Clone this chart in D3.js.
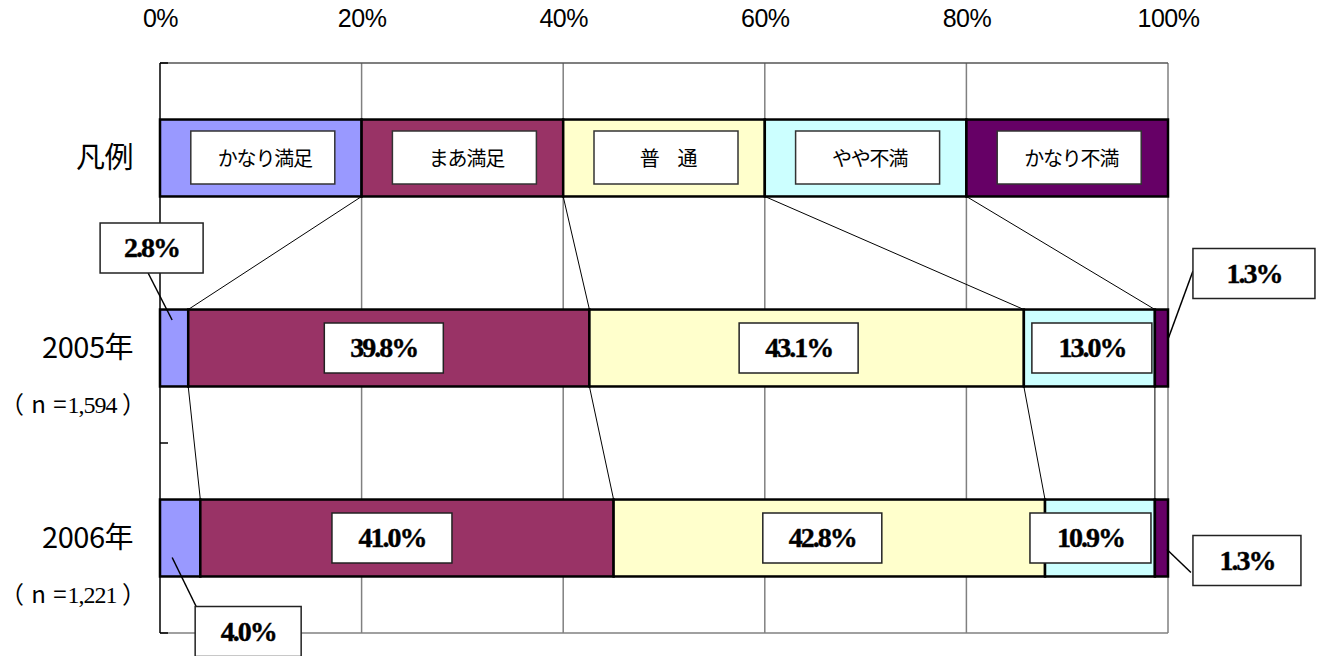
<!DOCTYPE html>
<html><head><meta charset="utf-8">
<script src="https://cdn.jsdelivr.net/npm/d3@7"></script>
<style>body{margin:0;background:#fff}svg{display:block}</style>
</head><body>
<svg id="chart" width="1321" height="656"></svg>
<script>
// ---- data ----
const categories = ["凡例", "2005年", "2006年"];
const sampleSizes = ["", "1,594", "1,221"];
const seriesNames = ["かなり満足", "まあ満足", "普　通", "やや不満", "かなり不満"];
const legendValues = [20, 20, 20, 20, 20];
const values2005 = [2.8, 39.8, 43.1, 13.0, 1.3];
const values2006 = [4.0, 41.0, 42.8, 10.9, 1.3];
const seriesColors = ["#9999FF", "#993366", "#FFFFCC", "#CCFFFF", "#660066"];
const xTickValues = [0, 20, 40, 60, 80, 100];

// label placement (annotation offsets relative to segment centre)
const labelLayout2005 = [
  {out: true, dx: -22.5, dy: -100, w: 103, ax: -2, ay: -28, ex: -3.5, ey: 25},
  {dx: -5, w: 119},
  {dx: -8, w: 119},
  {dx: 2.5, w: 120},
  {out: true, dx: 92.5, dy: -74.5, w: 122, ax: 7, ay: -10, ex: -61, ey: -2.5}
];
const labelLayout2006 = [
  {out: true, dx: 68, dy: 93.5, w: 106, ax: -8, ay: 19.5, ex: -52, ey: -25},
  {dx: -15, w: 120},
  {dx: -7, w: 119},
  {dx: -9.5, w: 121},
  {out: true, dx: 85.5, dy: 22.5, w: 108, ax: 5.5, ay: 11.5, ex: -56, ey: 12}
];

const svg = d3.select("#chart");
const pLeft = 160, pRight = 1168, pTop = 63, pBottom = 633;
const x = d3.scaleLinear().domain([0, 100]).range([pLeft, pRight]);
const y = d3.scaleBand().domain(categories).range([pTop, pBottom]).paddingInner(0.595).paddingOuter(0.2975);

const rows = [legendValues, values2005, values2006];
function stackRow(vals) {
  let acc = 0;
  return vals.map((v, i) => { const s = acc; acc += v; return {i, v, x0: s, x1: acc}; });
}
const stacked = rows.map(stackRow);

// gridlines
const grid = svg.append("g");
grid.selectAll("line.g").data(xTickValues.slice(1)).join("line")
  .attr("x1", d => x(d)).attr("x2", d => x(d)).attr("y1", pTop).attr("y2", pBottom)
  .attr("stroke", "#808080").attr("stroke-width", 1.5);
grid.append("line").attr("x1", pLeft).attr("x2", pRight).attr("y1", pTop).attr("y2", pTop)
  .attr("stroke", "#555").attr("stroke-width", 1.5);
grid.append("line").attr("x1", pLeft).attr("x2", pRight).attr("y1", pBottom).attr("y2", pBottom)
  .attr("stroke", "#808080").attr("stroke-width", 1.5);

// top axis
const xAxis = d3.axisTop(x).tickValues(xTickValues).tickFormat(d => d + "%").tickSize(0);
const axG = svg.append("g").attr("transform", `translate(0,${pTop - 33})`).call(xAxis);
axG.select(".domain").remove();
axG.selectAll("text").attr("font-family", "'Liberation Sans', Arial, sans-serif")
  .attr("font-size", 25).attr("fill", "#000").attr("letter-spacing", -0.5);

// left axis
svg.append("line").attr("x1", pLeft).attr("x2", pLeft).attr("y1", pTop).attr("y2", pBottom)
  .attr("stroke", "#000").attr("stroke-width", 1.5);
const step = y.step();
svg.selectAll("line.tk").data(d3.range(categories.length + 1)).join("line")
  .attr("x1", pLeft).attr("x2", pLeft + 8)
  .attr("y1", d => pTop + d * step).attr("y2", d => pTop + d * step)
  .attr("stroke", "#000").attr("stroke-width", 1.5);

// series lines connecting rows
const sl = svg.append("g");
for (let r = 0; r < rows.length - 1; r++) {
  for (let k = 0; k < rows[r].length - 1; k++) {
    sl.append("line")
      .attr("x1", x(stacked[r][k].x1)).attr("y1", y(categories[r]) + y.bandwidth())
      .attr("x2", x(stacked[r + 1][k].x1)).attr("y2", y(categories[r + 1]))
      .attr("stroke", "#000").attr("stroke-width", 1);
  }
}

// bars
stacked.forEach((segs, r) => {
  svg.append("g").selectAll("rect").data(segs).join("rect")
    .attr("x", d => x(d.x0)).attr("width", d => x(d.x1) - x(d.x0))
    .attr("y", y(categories[r])).attr("height", y.bandwidth())
    .attr("fill", d => seriesColors[d.i]).attr("stroke", "#000").attr("stroke-width", 2.5);
});

// legend labels inside legend row
const lg = svg.append("g");
stacked[0].forEach(d => {
  const cx = x((d.x0 + d.x1) / 2), cy = y(categories[0]) + y.bandwidth() / 2;
  lg.append("rect").attr("x", cx - 70).attr("y", cy - 27).attr("width", 144).attr("height", 53)
    .attr("fill", "#fff").attr("stroke", "#333").attr("stroke-width", 1.5);
  lg.append("text").attr("x", cx + 4).attr("y", cy + 8).attr("text-anchor", "middle")
    .attr("font-family", "'Noto Sans CJK JP', sans-serif").attr("font-size", 20)
    .attr("letter-spacing", -1.2).text(seriesNames[d.i]);
});

// value labels
function drawLabels(r, layout) {
  const g = svg.append("g");
  const cy = y(categories[r]) + y.bandwidth() / 2;
  stacked[r].forEach((d, k) => {
    const L = layout[k];
    const sx = x((d.x0 + d.x1) / 2);
    const bx = sx + L.dx, by = cy + (L.dy || 0);
    if (L.out) {
      g.append("line").attr("x1", sx + L.ax).attr("y1", cy + L.ay)
        .attr("x2", bx + L.ex).attr("y2", by + L.ey)
        .attr("stroke", "#000").attr("stroke-width", 1.5);
    }
    g.append("rect").attr("x", bx - L.w / 2).attr("y", by - 25).attr("width", L.w).attr("height", 50)
      .attr("fill", "#fff").attr("stroke", "#222").attr("stroke-width", 1.5);
    g.append("text").attr("x", bx).attr("y", by + 9).attr("text-anchor", "middle")
      .attr("font-family", "'Liberation Serif', 'Times New Roman', serif").attr("font-weight", "bold")
      .attr("font-size", 28).attr("letter-spacing", -2)
      .attr("stroke", "#000").attr("stroke-width", 0.4)
      .text(d.v.toFixed(1) + "%");
  });
}
drawLabels(1, labelLayout2005);
drawLabels(2, labelLayout2006);

// category labels
const cl = svg.append("g");
categories.forEach((c, r) => {
  const cy = y(c) + y.bandwidth() / 2;
  cl.append("text").attr("x", 133).attr("y", cy + 10).attr("text-anchor", "end")
    .attr("font-family", "'Noto Sans CJK JP', sans-serif").attr("font-size", 29)
    .attr("letter-spacing", -0.5).text(c);
  if (sampleSizes[r]) {
    const t = cl.append("text").attr("x", 146).attr("y", cy + 65).attr("text-anchor", "end")
      .attr("font-size", 24);
    t.append("tspan").attr("font-family", "'Noto Sans CJK JP', sans-serif").attr("letter-spacing", 1).text("（ n =");
    t.append("tspan").attr("font-family", "'Liberation Serif', serif").attr("letter-spacing", -1).text(sampleSizes[r]);
    t.append("tspan").attr("font-family", "'Noto Sans CJK JP', sans-serif").text(" ）");
  }
});
</script>
</body></html>
